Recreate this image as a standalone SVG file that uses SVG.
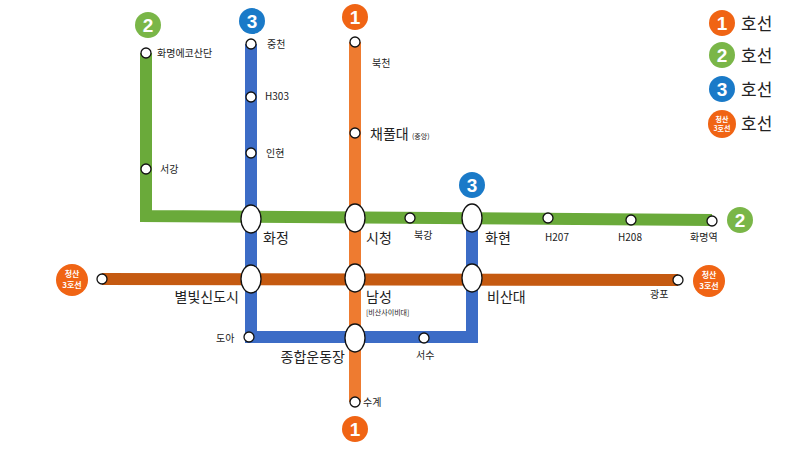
<svg xmlns="http://www.w3.org/2000/svg" width="800" height="450" viewBox="0 0 800 450">
<style>
text{font-family:"Noto Sans CJK KR","Noto Sans",sans-serif;fill:#222}
.s{font-size:10px}.m{font-size:14px}.xs{font-size:7px}
.st{fill:#fff;stroke:#111;stroke-width:1.3}
.ln{fill:none;stroke-width:12;stroke-linejoin:miter}
.bt{font-family:"Liberation Sans",sans-serif;font-weight:bold;fill:#fff;font-size:19px;text-anchor:middle}
.bs{font-weight:bold;fill:#fff;font-size:8px;text-anchor:middle}
.lg{font-size:17px}
</style>
<rect width="800" height="450" fill="#fff"/>
<g id="connectors">
<polyline class="ln" stroke="#6aaa3a" points="146,53 146,216 712,220"/>
<polyline class="ln" stroke="#3c6cc6" points="251,44 251,337 472,337 472,218"/>
<line class="ln" stroke="#ee7b30" x1="355" y1="42" x2="355" y2="402"/>
<line class="ln" stroke="#c55a11" x1="102" y1="279" x2="678" y2="280"/>
</g>
<g id="stations">
<circle class="st" cx="146" cy="53" r="5"/><text class="s" x="157" y="57">화명에코산단</text>
<circle class="st" cx="146" cy="169" r="5"/><text class="s" x="160" y="173">서강</text>
<circle class="st" cx="251" cy="44" r="5"/><text class="s" x="267" y="48">중천</text>
<circle class="st" cx="251" cy="97" r="5"/><text class="s" x="265" y="100">H303</text>
<circle class="st" cx="251" cy="153" r="5"/><text class="s" x="266" y="157">인현</text>
<circle class="st" cx="355" cy="42" r="5"/><text class="s" x="372" y="67">북천</text>
<circle class="st" cx="355" cy="133" r="5"/><text class="m" x="370" y="139">채풀대</text><text class="xs" x="412" y="139">(중앙)</text>
<circle class="st" cx="410" cy="218" r="5"/><text class="s" x="414" y="239">북강</text>
<circle class="st" cx="548" cy="218" r="5"/><text class="s" x="545" y="241">H207</text>
<circle class="st" cx="631" cy="220" r="5"/><text class="s" x="618" y="241">H208</text>
<circle class="st" cx="712" cy="221" r="5"/><text class="s" x="690" y="241">화명역</text>
<circle class="st" cx="102" cy="279" r="5"/>
<circle class="st" cx="678" cy="280" r="5"/><text class="s" x="650" y="298">광포</text>
<circle class="st" cx="249" cy="337" r="5"/><text class="s" x="216" y="342">도아</text>
<circle class="st" cx="424" cy="338" r="5"/><text class="s" x="416" y="359">서수</text>
<circle class="st" cx="355" cy="402" r="5"/><text class="s" x="363" y="406">수계</text>
</g>
<g id="interchanges">
<ellipse class="st" cx="251" cy="219" rx="10" ry="14"/><text class="m" x="263" y="243">화정</text>
<ellipse class="st" cx="355" cy="218" rx="10" ry="14"/><text class="m" x="366" y="243">시청</text>
<ellipse class="st" cx="472" cy="218" rx="10" ry="14"/><text class="m" x="485" y="243">화현</text>
<ellipse class="st" cx="251" cy="279" rx="10" ry="14"/><text class="m" x="239" y="302" text-anchor="end">별빛신도시</text>
<ellipse class="st" cx="355" cy="278" rx="10" ry="14"/><text class="m" x="366" y="302">남성</text><text class="xs" x="366" y="315">[비산사이비대]</text>
<ellipse class="st" cx="472" cy="278" rx="10" ry="14"/><text class="m" x="487" y="302">비산대</text>
<ellipse class="st" cx="355" cy="338" rx="10" ry="14"/><text class="m" x="345" y="362" text-anchor="end">종합운동장</text>
</g>
<g id="badges">
<circle cx="148" cy="25" r="13" fill="#7ab648"/><text class="bt" x="148" y="32">2</text>
<circle cx="252" cy="21" r="13" fill="#1a7ac8"/><text class="bt" x="252" y="28">3</text>
<circle cx="355" cy="17" r="13" fill="#f06414"/><text class="bt" x="355" y="24">1</text>
<circle cx="472" cy="185" r="13" fill="#1a7ac8"/><text class="bt" x="472" y="192">3</text>
<circle cx="740" cy="220" r="13" fill="#7ab648"/><text class="bt" x="740" y="227">2</text>
<circle cx="355" cy="429" r="13" fill="#f06414"/><text class="bt" x="355" y="436">1</text>
<circle cx="72" cy="280" r="16" fill="#f06414"/><text class="bs" x="72" y="277">청산</text><text class="bs" x="72" y="288">3호선</text>
<circle cx="709" cy="281" r="16" fill="#f06414"/><text class="bs" x="709" y="278">청산</text><text class="bs" x="709" y="289">3호선</text>
</g>
<g id="legend">
<circle cx="722" cy="23" r="13" fill="#f06414"/><text class="bt" x="722" y="30">1</text><text class="lg" x="741" y="30">호선</text>
<circle cx="722" cy="55" r="13" fill="#7ab648"/><text class="bt" x="722" y="62">2</text><text class="lg" x="741" y="62">호선</text>
<circle cx="722" cy="89" r="13" fill="#1a7ac8"/><text class="bt" x="722" y="96">3</text><text class="lg" x="741" y="96">호선</text>
<circle cx="722" cy="124" r="14" fill="#f06414"/><text class="bs" x="722" y="122" style="font-size:7px">청산</text><text class="bs" x="722" y="131" style="font-size:7px">3호선</text><text class="lg" x="741" y="130">호선</text>
</g>
</svg>
